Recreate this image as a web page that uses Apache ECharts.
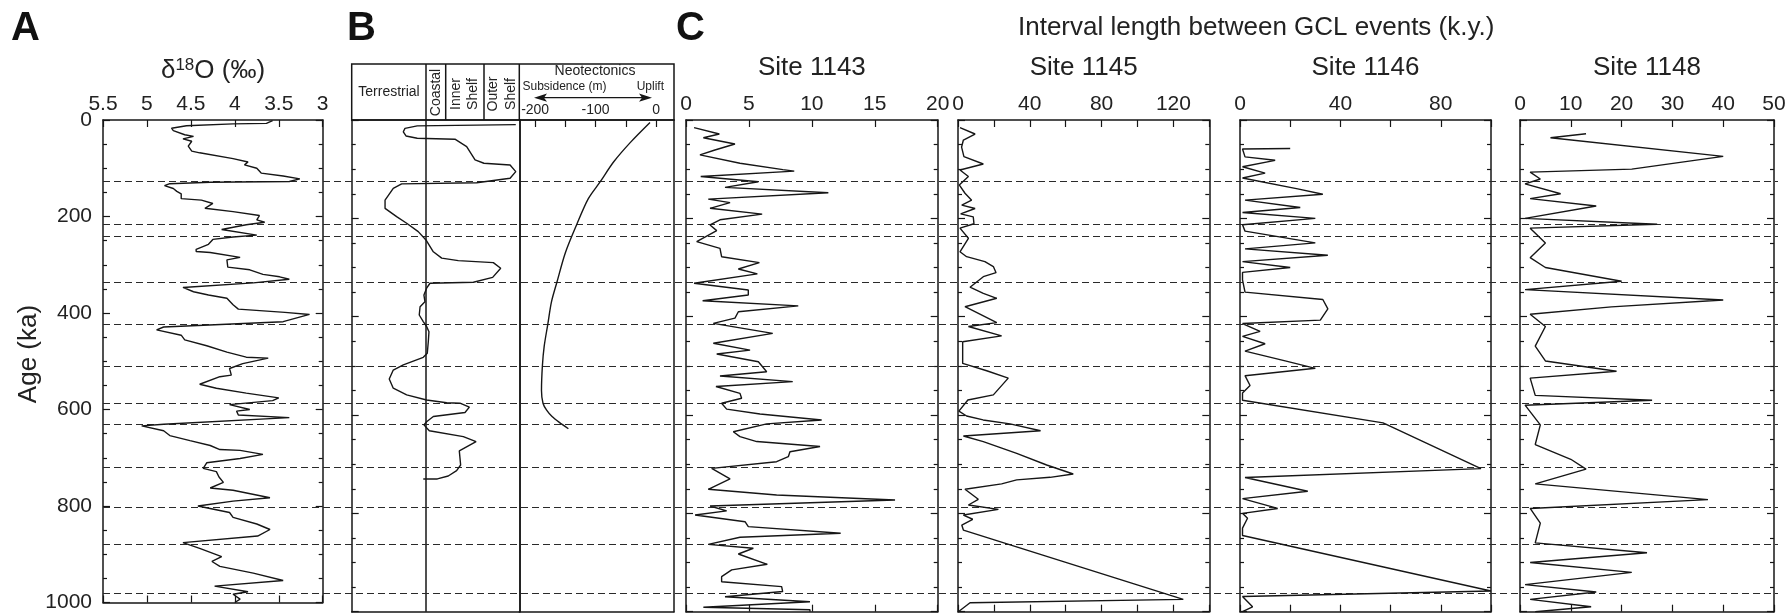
<!DOCTYPE html>
<html>
<head>
<meta charset="utf-8">
<script src="https://cdn.jsdelivr.net/npm/echarts@6/dist/echarts.min.js"></script>
<style>
  html, body { margin: 0; padding: 0; background: #fff; }
  #chart { width: 1792px; height: 613px; }
</style>
</head>
<body>
<div id="chart"></div>
<script>
// ---- Ages (ka) of the GCL events marked by dashed lines ----
const gclAges = [125, 212, 237, 330, 415, 500, 577, 618, 706, 787, 863, 963];

// ---- Tick label values ----
const ageLabelValues = [0, 200, 400, 600, 800, 1000];
const d18oLabelValues = [5.5, 5, 4.5, 4, 3.5, 3];
const neoLabelValues = [-200, -100, 0];
const neoTickValues = [-200, -150, -100, -50, 0];
const s1143LabelValues = [0, 5, 10, 15, 20];
const s1145LabelValues = [0, 40, 80, 120];
const s1146LabelValues = [0, 40, 80];
const s1148LabelValues = [0, 10, 20, 30, 40, 50];

// ---- A: benthic d18O record ----
const d18oAge = [1.4, 7, 8, 12, 17, 22, 30.5, 34, 39, 44, 54, 64.5, 68, 80, 87, 93, 100, 110, 116, 122, 127.5, 129, 132, 136, 142, 148, 153, 163, 166, 173, 183, 190, 198, 207, 212, 217, 227, 238.6, 242.6, 247.5, 257.7, 268, 272.5, 274.6, 284.7, 290, 305, 310.5, 320, 325, 330, 337.6, 347, 356, 362.7, 369.5, 383, 392, 398.6, 403, 418, 429, 435, 446, 455.6, 467.8, 481, 491.6, 493.6, 505, 515, 528.8, 532, 547.7, 556, 566, 576, 581.6, 589.8, 600, 603.4, 611.5, 616.9, 630.5, 634, 644, 654, 664.4, 674.6, 683, 684.8, 693, 701.6, 710.4, 722, 728.8, 740, 751, 762.7, 767.4, 783, 789.8, 800, 813.5, 823.7, 837.3, 848.7, 862.3, 876, 888, 905, 915, 925, 939, 954.5, 966, 977.6, 983, 993, 1000];
const d18oVal = [3.57, 3.64, 4.02, 4.55, 4.72, 4.70, 4.57, 4.47, 4.59, 4.49, 4.53, 4.49, 4.40, 4.02, 3.85, 3.89, 3.75, 3.70, 3.45, 3.26, 3.38, 4.28, 4.74, 4.80, 4.70, 4.66, 4.61, 4.61, 4.38, 4.25, 4.34, 4.02, 3.72, 3.75, 3.66, 3.87, 4.15, 3.75, 4.02, 4.25, 4.30, 4.44, 4.44, 4.28, 3.94, 4.09, 4.08, 3.83, 3.68, 3.49, 3.38, 3.79, 4.59, 4.47, 4.30, 4.09, 4.02, 3.96, 3.43, 3.15, 3.45, 4.81, 4.89, 4.61, 4.57, 4.32, 4.09, 3.87, 3.62, 3.91, 4.06, 4.04, 4.17, 4.40, 4.21, 3.87, 3.50, 3.57, 4.06, 3.83, 3.98, 3.96, 3.38, 4.81, 5.06, 4.81, 4.74, 4.51, 4.28, 4.17, 3.94, 3.68, 3.94, 4.32, 4.36, 4.21, 4.18, 4.13, 4.28, 4.02, 3.60, 4.02, 4.42, 4.06, 4.02, 3.75, 3.60, 3.74, 4.59, 4.40, 4.15, 4.26, 4.17, 3.79, 3.45, 4.23, 3.85, 4.02, 3.94, 4.00];

// ---- B: depositional environment (0 = left edge of Terrestrial, 100 = right edge of Outer Shelf) ----
const envAge = [9.5, 12, 17, 24, 32.5, 37, 39, 54, 81, 88, 91.5, 105, 118.6, 127.5, 130, 139, 163, 179.6, 196.6, 210, 227, 244, 268, 281, 286, 290, 301.6, 320, 330, 332, 342, 356, 369.5, 379.7, 396.6, 410, 420, 430.5, 451, 474.5, 482.7, 498, 508.5, 526.7, 545.5, 559, 569.5, 575, 576, 584, 595, 603, 613.6, 620, 632, 644, 654, 673, 701.7, 713, 724, 730, 730];
const envVal = [97.9, 39.1, 31.8, 30.8, 32.4, 39.1, 61.6, 68.6, 73.6, 78.9, 94.5, 97.9, 94.5, 74.6, 29.8, 24.8, 19.9, 19.9, 26.8, 32.8, 39.7, 44.3, 48.7, 53.7, 63.6, 84.5, 88.9, 84.1, 72.6, 46.7, 44.7, 43.1, 43.7, 40.8, 40.3, 42.7, 44.7, 46.1, 45.7, 45.1, 42.7, 30.8, 24.8, 22.4, 24.8, 32.8, 44.7, 56.7, 64.6, 70.2, 67.6, 48.7, 44.7, 43.1, 46.3, 66.6, 74.2, 64.2, 65.0, 62.6, 57.6, 51.1, 42.7];
const terrestrialCoastalBoundary = 44.3;

// ---- B: neotectonics (m) ----
const neoAge = [5, 45, 85, 125, 160, 212, 270, 330, 370, 415, 460, 500, 550, 576, 590, 603, 615, 628];
const neoVal = [-10, -42, -70, -92, -112, -131, -150, -164, -173, -179, -185, -188, -189.5, -187, -181, -172, -160, -145];

// ---- C: interval length between GCL events (k.y.) ----
const s1143Age = [15.6, 28.5, 36, 48.8, 61, 71, 88, 101, 104, 115, 125.5, 137, 148, 161, 168, 179.6, 191.5, 203, 213.5, 225, 247.5, 261, 278, 290, 303, 313, 332, 345.7, 356, 367.5, 378, 390, 403, 413.5, 434, 454, 468, 476, 491.6, 512, 520.6, 532, 542, 556, 566, 576, 588, 598, 610, 618, 634, 644, 654, 664, 674.6, 684.8, 695, 708.5, 730, 751, 762.7, 772.8, 785, 795, 803.4, 817, 827, 840.6, 848.7, 863, 871, 882.7, 903.6, 915, 928.8, 939, 949, 959, 969.5, 979.7, 991, 996, 1000];
const s1143Val = [0.64, 2.65, 1.38, 3.89, 2.30, 1.11, 4.29, 7.7, 8.6, 1.17, 5.75, 3.10, 11.31, 1.77, 3.50, 1.91, 6.05, 2.70, 1.91, 2.44, 0.85, 2.70, 2.83, 5.83, 4.16, 5.67, 0.64, 4.95, 4.95, 1.32, 8.92, 4.16, 3.89, 2.17, 6.89, 2.17, 5.09, 2.44, 5.75, 6.41, 2.70, 8.48, 2.38, 4.29, 4.42, 2.83, 3.23, 5.88, 10.78, 6.41, 3.76, 4.29, 5.62, 10.65, 8.26, 8.13, 7.20, 2.04, 3.50, 1.77, 7.20, 16.61, 1.91, 3.23, 0.72, 4.69, 4.95, 12.29, 4.29, 1.77, 5.35, 4.16, 6.46, 3.63, 2.83, 2.83, 7.60, 7.68, 3.10, 9.85, 1.38, 9.85, 9.85];

const s1145Age = [15.6, 28.5, 40.7, 55, 74.6, 89.5, 101.7, 115, 132, 149, 163, 173, 180, 191, 197, 211, 220, 240.6, 268, 278, 288, 298, 310.5, 318.7, 340, 352.5, 362.6, 379.7, 412, 420, 439, 451, 495, 510, 525, 559, 569.5, 592, 602, 610, 618, 632, 642.7, 654, 678, 701.7, 720, 726.7, 732, 740, 751, 771.4, 783, 791.8, 803.4, 812, 823.7, 834, 975, 981.7, 1000];
const s1145Val = [1.1, 9.5, 3.0, 2.0, 3.3, 14.1, 1.1, 5.8, 0.7, 3.9, 7.6, 2.1, 9.5, 1.5, 8.5, 8.9, 1.1, 5.8, 1.1, 4.8, 15, 19.7, 21.2, 14.1, 6.7, 14.1, 21.6, 3.9, 21.6, 5.8, 24.3, 2.6, 2.6, 16, 28, 19.7, 5.5, 0.5, 4.8, 14, 29, 46, 3, 14.1, 32.7, 49.4, 64.2, 51.3, 32.7, 24.3, 3.9, 11.3, 5.8, 22.5, 3, 8.2, 2.1, 3, 125.5, 6.7, 0.2];

const s1146Age = [58, 59, 75, 82, 95, 108, 118, 140, 151, 163, 178, 188, 200, 213, 226, 250, 262, 275, 288, 300, 310, 325, 350, 365, 384, 407, 414, 430, 440, 455, 470, 490, 505, 520, 540, 555, 570, 616, 709, 727, 755, 770, 790, 800, 810, 830, 845, 958, 969, 990, 1000];
const s1146Val = [20, 1, 2, 14, 1, 10, 1, 23, 33, 2, 24, 1, 30, 1, 2, 30, 2, 35, 1, 20, 1, 1, 2, 33, 35, 32, 1, 8, 1, 10, 2, 18, 30, 2, 4, 1, 1, 57, 96, 2, 27, 1, 15, 1, 3, 1, 1, 100, 1, 5, 1];

const s1148Age = [28, 36, 74, 100, 106, 120, 130, 150, 160, 175, 200, 212, 220, 250, 280, 300, 328, 345, 366, 380, 395, 420, 460, 490, 511, 525, 560, 570, 580, 620, 660, 690, 710, 740, 772, 790, 820, 860, 880, 900, 920, 945, 960, 975, 990, 1000];
const s1148Val = [13, 6, 40, 22, 2, 4, 1, 8, 2, 15, 1, 27, 2, 5, 2, 5, 20, 1, 40, 18, 2, 5, 3, 5, 19, 2, 3, 26, 1, 4, 3, 10, 13, 3, 37, 2, 4, 3, 25, 2, 22, 1, 15, 2, 14, 3];

// ---- styling ----
const INK = '#161616';
const TEXT = '#222';
const FONT = '"Liberation Sans", Arial, Helvetica, sans-serif';
const FRAME_W = 1.5;
const PLOT_TOP = 120;
const PLOT_H = 491.7;

const grids = [], xAxes = [], yAxes = [], series = [];
const tickStyle = { color: INK, width: 1.2 };
const lineStyle = { color: INK, width: FRAME_W };
const plainNumber = v => String(v);

function pairs(ages, vals) {
  return ages.map((a, i) => [vals[i], a]);
}

// One framed panel: top/bottom x axes and left/right age axes
function addPanel(cfg) {
  const gi = grids.length;
  grids.push({ left: cfg.left, top: PLOT_TOP, width: cfg.width, height: PLOT_H });
  const xBase = { type: 'value', gridIndex: gi, min: cfg.min, max: cfg.max, inverse: !!cfg.inverse,
    splitLine: { show: false } };
  if (cfg.interval) xBase.interval = cfg.interval;
  const xTick = (show) => {
    if (!show) return { show: false };
    const t = { show: true, inside: true, length: 7, lineStyle: tickStyle };
    if (cfg.tickValues) t.customValues = cfg.tickValues;
    return t;
  };
  const xi = xAxes.length;
  xAxes.push(Object.assign({}, xBase, {
    position: 'top',
    axisLine: { show: true, onZero: false, lineStyle },
    axisTick: xTick(cfg.topTicks),
    axisLabel: cfg.labels ? { show: true, customValues: cfg.labels, margin: cfg.labelMargin || 5,
      formatter: plainNumber, color: TEXT, fontSize: cfg.labelSize || 21, fontFamily: FONT } : { show: false }
  }));
  xAxes.push(Object.assign({}, xBase, {
    position: 'bottom',
    axisLine: { show: true, onZero: false, lineStyle },
    axisTick: xTick(cfg.bottomTicks),
    axisLabel: { show: false }
  }));
  const yBase = { type: 'value', gridIndex: gi, min: 0, max: 1000, inverse: true, interval: 200,
    splitLine: { show: false } };
  const yTick = (show) => show ? { show: true, inside: true, length: 7, lineStyle: tickStyle } : { show: false };
  const yMinor = (show) => show ? { show: true, splitNumber: 4, length: 4, lineStyle: tickStyle } : { show: false };
  const yi = yAxes.length;
  yAxes.push(Object.assign({}, yBase, {
    position: 'left',
    axisLine: { show: true, onZero: false, lineStyle },
    axisTick: yTick(cfg.leftTicks),
    minorTick: yMinor(cfg.leftTicks),
    axisLabel: cfg.ageLabels ? { show: true, customValues: ageLabelValues, margin: 11, formatter: plainNumber,
      color: TEXT, fontSize: 21, fontFamily: FONT } : { show: false }
  }));
  yAxes.push(Object.assign({}, yBase, {
    position: 'right',
    axisLine: { show: true, onZero: false, lineStyle },
    axisTick: yTick(cfg.rightTicks),
    minorTick: yMinor(cfg.rightTicks),
    axisLabel: { show: false }
  }));
  return { xi, yi };
}

function addCurve(p, ages, vals, extra) {
  series.push(Object.assign({
    type: 'line', xAxisIndex: p.xi, yAxisIndex: p.yi, data: pairs(ages, vals),
    showSymbol: false, symbol: 'none', silent: true, animation: false, z: 5,
    lineStyle: { color: INK, width: 1.4 }
  }, extra || {}));
}

// Panel A
const pA = addPanel({ left: 103, width: 219.7, min: 3, max: 5.5, inverse: true, interval: 0.5,
  labels: d18oLabelValues, topTicks: true, bottomTicks: true, leftTicks: true, rightTicks: true, ageLabels: true });
addCurve(pA, d18oAge, d18oVal);

// Panel B: environment
const pEnv = addPanel({ left: 351.7, width: 167.6, min: 0, max: 100,
  topTicks: false, bottomTicks: false, leftTicks: true, rightTicks: false });
addCurve(pEnv, envAge, envVal, {
  markLine: { symbol: ['none', 'none'], silent: true, animation: false, label: { show: false },
    lineStyle: { type: 'solid', color: INK, width: FRAME_W },
    data: [{ xAxis: terrestrialCoastalBoundary }] }
});

// Panel B: neotectonics
const pNeo = addPanel({ left: 519.3, width: 154.7, min: -226.2, max: 29.7,
  tickValues: neoTickValues, labels: neoLabelValues, labelSize: 14, labelMargin: 3,
  topTicks: true, bottomTicks: false, leftTicks: false, rightTicks: false });
addCurve(pNeo, neoAge, neoVal, { smooth: 0.3 });

// Panel C: sites
const p1143 = addPanel({ left: 686, width: 251.7, min: 0, max: 20, interval: 5, labels: s1143LabelValues,
  topTicks: true, bottomTicks: true, leftTicks: true, rightTicks: true });
addCurve(p1143, s1143Age, s1143Val);

const p1145 = addPanel({ left: 958, width: 251.3, min: 0, max: 140, interval: 20, labels: s1145LabelValues,
  topTicks: true, bottomTicks: true, leftTicks: true, rightTicks: true });
addCurve(p1145, s1145Age, s1145Val);

const p1146 = addPanel({ left: 1240, width: 251, min: 0, max: 100, interval: 20, labels: s1146LabelValues,
  topTicks: true, bottomTicks: true, leftTicks: true, rightTicks: true });
addCurve(p1146, s1146Age, s1146Val);

const p1148 = addPanel({ left: 1520, width: 254, min: 0, max: 50, interval: 10, labels: s1148LabelValues,
  topTicks: true, bottomTicks: true, leftTicks: true, rightTicks: true });
addCurve(p1148, s1148Age, s1148Val);

// Dashed GCL event lines spanning all panels
(function () {
  const gi = grids.length;
  grids.push({ left: 103, top: PLOT_TOP, width: 1675, height: PLOT_H });
  const xi = xAxes.length, yi = yAxes.length;
  xAxes.push({ type: 'value', gridIndex: gi, min: 0, max: 1, show: false });
  yAxes.push({ type: 'value', gridIndex: gi, min: 0, max: 1000, inverse: true, show: false });
  series.push({
    type: 'line', xAxisIndex: xi, yAxisIndex: yi, data: [], silent: true, animation: false, z: 2,
    markLine: { symbol: ['none', 'none'], silent: true, animation: false, label: { show: false },
      lineStyle: { type: [7, 4], color: '#2a2a2a', width: 1.2 },
      data: gclAges.map(a => ({ yAxis: a })) }
  });
})();

// ---- titles, panel letters and the environment header box ----
const txt = (text, x, y, size, opts) => Object.assign({
  type: 'text', silent: true, z: 20,
  style: Object.assign({ text, x, y, fill: TEXT, font: `${size}px ${FONT}`,
    textAlign: 'center', textVerticalAlign: 'middle' }, (opts && opts.style) || {})
}, opts && opts.el ? opts.el : {});

const graphics = [
  txt('A', 11, 29, 40, { style: { textAlign: 'left', font: `bold 40px ${FONT}`, fill: '#111' } }),
  txt('B', 347, 29, 40, { style: { textAlign: 'left', font: `bold 40px ${FONT}`, fill: '#111' } }),
  txt('C', 676, 29, 40, { style: { textAlign: 'left', font: `bold 40px ${FONT}`, fill: '#111' } }),
  {
    type: 'text', silent: true, z: 20,
    style: { text: '{a|δ}{s|18}{a|O (‰)}', x: 213, y: 71, textAlign: 'center', textVerticalAlign: 'middle',
      fill: TEXT,
      rich: { a: { fontSize: 26, fontFamily: FONT, color: TEXT, lineHeight: 28 },
              s: { fontSize: 17, fontFamily: FONT, color: TEXT, verticalAlign: 'top', lineHeight: 28, padding: [0, 0, 8, 0] } } }
  },
  txt('Age (ka)', 28.5, 354, 26, { el: { rotation: Math.PI / 2, x: 28.5, y: 354 }, style: { x: 0, y: 0 } }),
  txt('Interval length between GCL events (k.y.)', 1018, 28, 26, { style: { textAlign: 'left' } }),
  txt('Site 1143', 686 + 251.7 / 2, 67.5, 26),
  txt('Site 1145', 958 + 251.3 / 2, 67.5, 26),
  txt('Site 1146', 1240 + 251 / 2, 67.5, 26),
  txt('Site 1148', 1520 + 254 / 2, 67.5, 26),

  // environment / neotectonics header box
  { type: 'rect', silent: true, z: 20, shape: { x: 351.7, y: 64, width: 322.3, height: 56 },
    style: { fill: 'none', stroke: INK, lineWidth: FRAME_W } },
  ...[426, 445.7, 484, 519.3].map(x => ({ type: 'line', silent: true, z: 20,
    shape: { x1: x, y1: 64, x2: x, y2: 120 }, style: { stroke: INK, lineWidth: FRAME_W } })),
  txt('Terrestrial', 389, 92.5, 14),
  txt('Coastal', 0, 0, 14, { el: { rotation: Math.PI / 2, x: 436, y: 92.5 } }),
  txt('Inner', 0, 0, 14, { el: { rotation: Math.PI / 2, x: 456.5, y: 94 } }),
  txt('Shelf', 0, 0, 14, { el: { rotation: Math.PI / 2, x: 473, y: 94 } }),
  txt('Outer', 0, 0, 14, { el: { rotation: Math.PI / 2, x: 493, y: 94 } }),
  txt('Shelf', 0, 0, 14, { el: { rotation: Math.PI / 2, x: 511, y: 94 } }),
  txt('Neotectonics', 595, 71.5, 14),
  txt('Subsidence (m)', 522.5, 87, 12, { style: { textAlign: 'left' } }),
  txt('Uplift', 664, 87, 12, { style: { textAlign: 'right' } }),
  { type: 'line', silent: true, z: 20, shape: { x1: 542, y1: 97.7, x2: 644, y2: 97.7 },
    style: { stroke: INK, lineWidth: 1.3 } },
  { type: 'polygon', silent: true, z: 20, shape: { points: [[534, 97.7], [547, 93.6], [544, 97.7], [547, 101.8]] },
    style: { fill: INK } },
  { type: 'polygon', silent: true, z: 20, shape: { points: [[652, 97.7], [639, 93.6], [642, 97.7], [639, 101.8]] },
    style: { fill: INK } }
];

const chart = echarts.init(document.getElementById('chart'), null, { renderer: 'canvas' });
chart.setOption({
  animation: false,
  backgroundColor: '#fff',
  grid: grids,
  xAxis: xAxes,
  yAxis: yAxes,
  series: series,
  graphic: { elements: graphics }
});
</script>
</body>
</html>
